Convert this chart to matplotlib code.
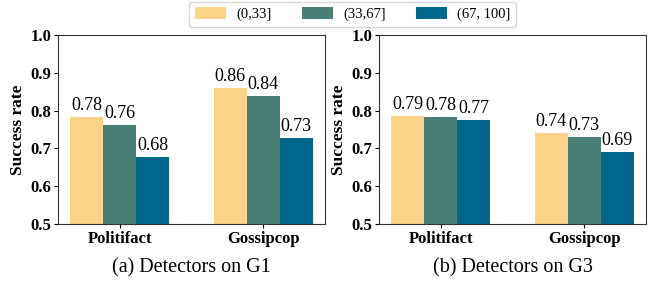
import matplotlib.pyplot as plt
import numpy as np

plt.rcParams['font.family'] = ['Liberation Serif', 'DejaVu Serif']

# Dataset
datasets = ['Politifact', 'Gossipcop']
bins = ['(0,33]', '(33,67]', '(67, 100]']
G1_rates = [[0.783, 0.86], [0.762, 0.839], [0.677, 0.727]]
G3_rates = [[0.786, 0.741], [0.783, 0.730], [0.775, 0.690]]
G1_labels = [['0.78', '0.86'], ['0.76', '0.84'], ['0.68', '0.73']]
G3_labels = [['0.79', '0.74'], ['0.78', '0.73'], ['0.77', '0.69']]
captions = ['(a) Detectors on G1', '(b) Detectors on G3']

colors = ['#FDD387', '#4A7F78', '#00668C']
width = 0.23

fig = plt.figure(figsize=(6.57, 2.82), dpi=100, facecolor='white')
ax1 = fig.add_axes([0.0883, 0.2057, 0.4064, 0.670])
ax2 = fig.add_axes([0.5769, 0.2057, 0.4064, 0.670])

x = np.arange(len(datasets))
handles = []
for ax, rates, labels, cap in [(ax1, G1_rates, G1_labels, captions[0]),
                               (ax2, G3_rates, G3_labels, captions[1])]:
    for i in range(len(bins)):
        bars = ax.bar(x + (i - 1) * width, rates[i], width, color=colors[i], label=bins[i])
        ax.bar_label(bars, labels=labels[i], padding=2, fontsize=13)
        if ax is ax1:
            handles.append(bars)
    ax.set_ylim(0.5, 1.0)
    ax.set_yticks(np.arange(0.5, 1.01, 0.1))
    ax.set_yticklabels(['%.1f' % v for v in np.arange(0.5, 1.01, 0.1)], fontweight='bold', fontsize=12)
    ax.set_xticks(x)
    ax.set_xticklabels(datasets, fontweight='bold', fontsize=12)
    ax.set_ylabel('Success rate', fontweight='bold', fontsize=12.5, labelpad=3)
    ax.tick_params(length=3, pad=2)
    for s in ax.spines.values():
        s.set_color('#333333')
    ax.text(0.5, -0.23, cap, transform=ax.transAxes, ha='center', va='center', fontsize=14.5)

fig.legend(handles=handles, labels=bins, loc='center', bbox_to_anchor=(0.537, 0.949),
           ncol=3, fontsize=10.5, frameon=True, fancybox=True, edgecolor='#cccccc',
           handlelength=2.1, handleheight=0.8, columnspacing=2.1, handletextpad=0.7, borderpad=0.4)

plt.savefig('out.png', dpi=100)
